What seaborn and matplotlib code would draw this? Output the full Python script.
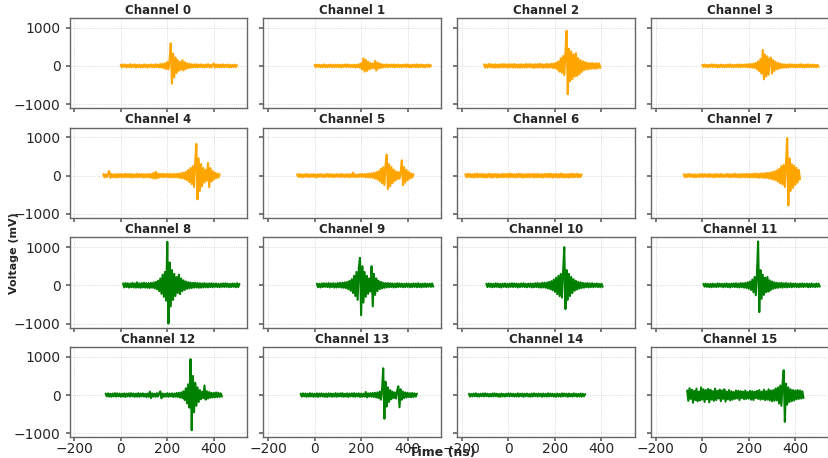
import numpy as np
import pandas as pd
import seaborn as sns
import matplotlib.pyplot as plt

sns.set_theme(style="ticks")
plt.rcParams['font.family'] = ['DejaVu Sans']

# trace start time (ns) of each channel, samples every 5 ns
channels = list(range(16))
start_ns = [0, 0, -105, 0, -75, -75, -185, -80, 10, 10, -95, 5, -65, -60, -170, -65]
step_ns = 5

ch0 = [30,-35,40,-25,35,-40,25,-30,45,-35,30,-25,40,-45,30,-30,35,-40,25,-35,
       40,-30,35,-45,30,-25,40,-35,30,-40,45,-30,35,-40,50,-45,55,-60,70,-80,
       100,-90,150,590,-465,320,-300,220,-190,150,-130,110,-100,150,-120,100,-80,70,-60,55,
       -50,45,-40,40,-35,45,-40,35,-30,40,-35,30,-40,35,-30,45,-35,30,-40,35,
       60,-45,40,-35,30,-40,35,-30,40,-35,30,-25,35,-40,30,-35,25,-30,35,-30,20]
ch1 = [25,-30,35,-25,30,-35,25,-30,40,-30,25,-35,30,-25,35,-30,25,-35,30,-25,
       35,-30,25,-40,30,-25,35,-30,40,-25,30,-35,25,-30,35,-40,30,-35,45,-50,
       70,-90,200,-150,160,-130,110,-90,80,-70,60,-60,130,-120,90,-70,60,-50,45,-40,
       35,-30,40,-35,30,-25,35,-30,40,-35,30,-25,35,-30,25,-35,30,-25,35,-30,
       40,-30,25,-35,30,-25,35,-30,40,-35,30,-25,35,-30,25,-35,30,-25,35,-30,20]
ch2 = [40,-45,35,-40,50,-35,45,-40,35,-50,45,-40,35,-45,40,-35,50,-40,45,-35,
       40,-50,45,-35,40,-45,50,-40,35,-45,40,-50,45,-40,35,-45,50,-40,45,-35,
       50,-45,40,-55,45,-40,50,-45,55,-40,45,-50,40,-45,55,-50,45,-40,60,-55,
       65,-60,80,-90,120,-150,200,-180,260,-240,350,920,-740,450,-400,380,-350,300,-280,330,
       -260,200,-220,150,-160,120,-110,100,-90,80,-85,70,-75,80,-70,65,-75,70,-60,65,-50]
ch3 = [30,-25,35,-30,25,-35,30,-25,40,-30,35,-25,30,-35,25,-30,35,-25,30,-35,
       25,-30,35,-25,40,-30,25,-35,30,-25,35,-30,40,-35,30,-25,35,-30,40,-35,
       45,-40,50,-45,60,-55,80,-90,120,-140,180,-200,420,-350,300,-280,250,-230,180,220,
       -200,150,-130,110,-90,80,-70,60,-55,50,-45,40,-45,35,-40,45,-35,40,-30,35,
       -40,30,-35,40,-30,45,-35,30,-40,35,-30,40,-35,30,-25,35,-30,25,-35,30,-25]
ch4 = [40,-45,35,-40,50,120,-60,45,-40,35,-45,40,-50,45,-35,40,-45,35,-40,50,
       -45,40,-35,45,-50,40,-45,35,-40,50,-45,40,-35,45,-50,40,-45,35,-40,45,
       -50,45,-60,70,-80,100,-70,55,-50,45,-40,50,-45,40,-35,45,-40,50,-45,40,
       -45,50,-40,45,-50,55,-60,65,-70,80,-90,100,-120,150,-170,200,-220,250,-300,350,
       830,-620,450,-400,300,-280,200,-180,150,-130,330,-300,200,-150,120,-100,80,-70,60,-50,40]
ch5 = [35,-30,40,-35,30,-40,35,-30,45,-35,30,-40,35,-30,40,-35,30,-45,35,-30,
       40,-35,30,-40,35,-30,45,-35,40,-30,35,-40,30,-35,40,-30,35,-40,45,-35,
       30,-40,35,-30,40,-45,35,-30,80,-40,35,-40,30,-35,40,-30,45,-35,40,-45,
       50,-45,55,-50,60,-55,70,-80,90,-100,120,-150,180,-200,220,-250,280,550,-350,300,
       -280,230,-200,160,-140,110,-100,90,-80,100,400,-250,220,-180,150,-120,100,-80,60,-50,40]
ch6 = [40,-45,50,-35,45,-40,35,-50,45,-40,55,-45,40,-35,50,-45,40,-50,35,-45,
       50,-40,45,-55,40,-35,45,-50,40,-45,35,-40,50,-45,40,-35,45,-50,55,-40,
       45,-40,35,-50,45,-40,50,-35,45,-55,40,-45,35,-40,50,-45,40,-35,45,-50,
       40,-45,50,-40,35,-45,40,-50,45,-35,40,-45,50,-40,45,-55,40,-35,45,-50,
       40,-45,55,-40,45,-50,35,-45,40,-50,45,-40,55,-45,40,-35,50,-45,40,-35,30]
ch7 = [35,-40,30,-35,45,-30,40,-35,30,-45,35,-40,30,-35,40,-30,45,-35,40,-30,
       35,-40,45,-35,30,-40,35,-45,40,-30,35,-40,45,-35,30,-40,35,-30,45,-40,
       35,-45,40,-35,50,-40,35,-45,40,-50,45,-35,40,-45,50,-40,45,-50,40,-45,
       50,-45,55,-50,45,-55,60,-50,55,-60,65,-60,70,-75,80,-85,90,-100,110,-120,
       140,-160,180,-200,250,-230,280,-300,320,980,-780,450,-400,300,-320,260,-240,200,-180,150,-100]
ch8 = [50,-55,60,-45,55,-60,45,-50,65,-55,50,-60,80,-55,50,-65,60,-55,70,-60,
       55,-65,60,-70,65,-60,75,-80,90,-100,120,-150,180,-220,280,-300,350,-400,1140,-1000,
       600,-550,400,-380,300,-280,220,-200,280,-230,180,-150,130,-120,100,-90,85,-80,75,-70,
       65,-60,70,-55,60,-65,55,-60,50,-55,60,-50,45,-55,50,-45,55,-50,45,-40,
       50,-45,40,-50,45,-40,50,-45,55,-40,45,-50,40,-45,50,-40,45,-50,55,-45,40]
ch9 = [45,-50,40,-55,50,-45,55,-40,50,-45,60,-55,50,-45,55,-60,50,-55,60,-50,
       65,-60,70,-65,80,-75,90,-100,120,-140,160,-200,250,-280,350,-380,450,720,-780,500,
       -450,350,-300,250,-220,180,-160,500,-550,300,-250,180,-150,120,-100,90,-80,70,-65,60,
       -55,60,-50,55,-45,50,-55,45,-50,55,-45,50,-40,45,-50,40,-45,50,-40,45,
       -50,40,-45,50,-40,45,-50,55,-45,40,-50,45,-40,50,-45,40,-35,45,-40,50,-35]
ch10 = [40,-45,50,-40,45,-50,40,-45,55,-40,45,-50,40,-55,45,-40,50,-45,40,-50,
        45,-40,55,-45,50,-40,45,-55,40,-45,50,-40,55,-45,40,-50,45,-40,50,-55,
        45,-50,55,-45,60,-55,50,-60,65,-55,70,-65,75,-80,90,-100,110,-130,150,-170,
        200,-230,250,-280,300,-320,350,1000,-620,400,-380,300,-280,220,-200,160,-140,120,-110,90,
        -85,80,-70,65,-60,55,-50,60,-55,50,-45,55,-50,45,-40,50,-45,40,-50,45,-40]
ch11 = [40,-35,45,-40,35,-45,40,-50,45,-40,35,-45,50,-40,45,-35,40,-50,45,-40,
        50,-45,40,-55,45,-40,50,-45,55,-50,45,-55,60,-50,55,-60,65,-70,80,-90,
        100,-120,150,-180,220,-260,300,1150,-700,400,-350,280,-250,200,-180,220,-160,130,-120,100,
        -90,80,-75,70,-65,60,-55,65,-60,55,-50,60,-55,50,-45,55,-50,45,-40,50,
        -45,40,-50,45,-40,50,-45,40,-35,45,-50,40,-45,50,-40,35,-45,50,-40,45,-35]
ch12 = [40,-35,45,-40,35,-45,40,-35,50,-40,45,-35,40,-45,35,-40,45,-50,40,-35,
        45,-40,50,-35,40,-45,35,-40,50,-45,40,-35,45,-40,35,-50,40,-45,90,-80,
        45,-40,35,-45,50,-40,45,95,-85,40,-45,35,-40,50,-45,40,-35,45,-50,40,
        -45,55,-50,60,-65,70,-80,100,-130,180,-220,280,-330,940,-920,500,-450,320,-280,200,
        -180,130,-110,90,-80,250,-120,100,-90,80,-70,60,-65,55,-60,70,-55,60,-50,45,-40]
ch13 = [35,-40,45,-35,40,-45,35,-40,50,-35,40,-45,35,-40,45,-50,40,-35,45,-40,
        35,-45,40,-50,45,-35,40,-45,35,-40,50,-45,40,-35,45,-40,50,-45,35,-40,
        45,-50,40,-35,45,-40,50,-45,40,-35,45,-50,40,-45,35,-40,80,-60,45,-40,
        50,-45,55,-50,60,-65,70,-80,90,-120,150,700,-620,350,-300,200,-180,130,-110,90,
        -80,70,-90,120,230,-320,150,-120,90,-80,70,-65,60,-55,50,-60,55,-50,45,-40,35]
ch14 = [35,-40,30,-35,40,-30,45,-35,30,-40,35,-30,40,-35,45,-30,35,-40,30,-35,
        40,-35,45,-30,35,-40,30,-45,40,-35,30,-40,35,-30,45,-35,40,-30,35,-40,
        30,-35,45,-40,35,-30,40,-45,35,-30,40,-35,30,-45,40,-35,45,-30,35,-40,
        40,-30,35,-45,40,-35,30,-40,45,-35,40,-30,35,-40,30,-45,40,-35,30,-40,
        45,-35,40,-30,35,-45,40,-35,30,-40,45,-30,35,-40,30,-35,40,-45,35,-30,25]
ch15 = [120,-150,180,-100,140,-200,110,-130,170,-160,90,-140,200,-120,150,-180,130,-110,160,-190,
        140,-120,100,-150,170,-130,110,-90,140,-160,120,-100,150,-170,90,-110,130,-140,100,-120,
        80,-100,120,-90,110,-130,100,-80,90,-110,120,-100,80,-90,110,-120,100,-130,90,-80,
        110,-100,130,-120,90,-110,140,-130,100,-120,150,-140,120,-160,130,-150,170,-140,200,-220,
        250,-280,300,650,-700,300,-250,200,-180,150,-160,130,-140,120,-110,130,-100,120,-90,100,-80]

traces = [ch0, ch1, ch2, ch3, ch4, ch5, ch6, ch7,
          ch8, ch9, ch10, ch11, ch12, ch13, ch14, ch15]

fig, axes = plt.subplots(4, 4, figsize=(8.29, 4.58), dpi=100, sharex=True, sharey=True)

for ch, ax in zip(channels, axes.flat):
    v = traces[ch]
    t = start_ns[ch] + step_ns * np.arange(len(v))
    df = pd.DataFrame({'t': t, 'mV': v})
    color = 'orange' if ch < 8 else 'green'
    sns.lineplot(data=df, x='t', y='mV', ax=ax, color=color, linewidth=1.5, estimator=None)
    ax.set_title(f'Channel {ch}', fontsize=8.5, fontweight='bold', pad=3)
    ax.set_xlabel('')
    ax.set_ylabel('')
    ax.grid(True, ls=':', lw=0.6, color='#cccccc')
    for s in ax.spines.values():
        s.set_color('#666666')
        s.set_linewidth(1)
    ax.tick_params(labelsize=10, length=3, color='#666666')
    ax.tick_params(axis='x', pad=0.5)

axes[0, 0].set_xticks([-200, 0, 200, 400])
axes[0, 0].set_yticks([-1000, 0, 1000])

fig.subplots_adjust(left=0.084, right=1.0, top=0.961, bottom=0.045, wspace=0.09, hspace=0.214)
fig.text(0.017, 0.448, 'Voltage (mV)', rotation=90, ha='center', va='center',
         fontsize=8, fontweight='bold')
fig.text(0.534, 0.012, 'Time (ns)', ha='center', va='center', fontsize=9, fontweight='bold')

fig.savefig('out.png', dpi=100)
